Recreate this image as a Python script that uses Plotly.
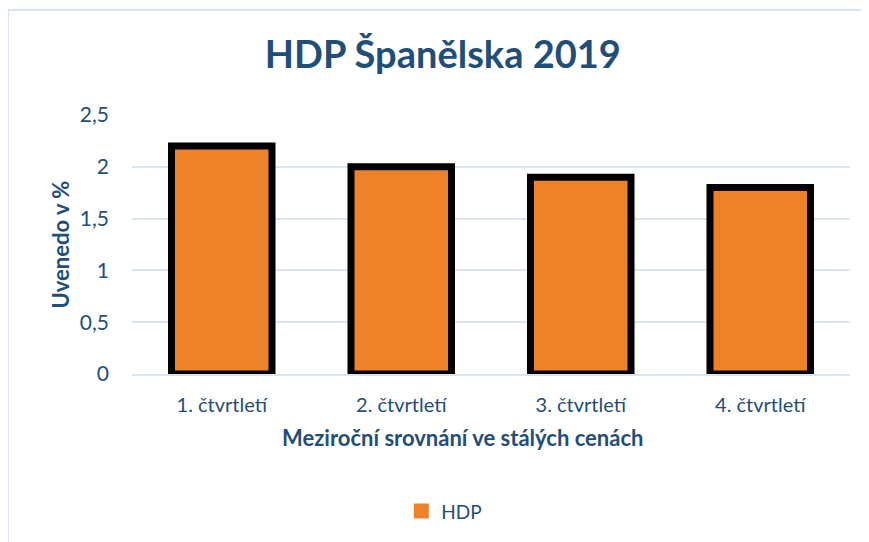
import plotly.graph_objects as go

categories = ["1. čtvrtletí", "2. čtvrtletí", "3. čtvrtletí", "4. čtvrtletí"]
hdp_values = [2.2, 2.0, 1.9, 1.8]
y_tick_vals = [0, 0.5, 1, 1.5, 2, 2.5]
y_tick_text = ["0", "0,5", "1", "1,5", "2", "2,5"]

TEXT = "#1F4E79"
FONT = "Lato"
ORANGE = "#EE8228"

fig = go.Figure()
fig.add_trace(go.Bar(
    x=categories, y=hdp_values, name="HDP",
    marker=dict(color=ORANGE, line=dict(color="black", width=7)),
    showlegend=False,
))
# legend entry (plain orange square, as in the reference)
fig.add_trace(go.Scatter(
    x=[None], y=[None], mode="markers", name="HDP",
    marker=dict(symbol="square", size=15, color=ORANGE),
    showlegend=True,
))

fig.update_layout(
    width=861, height=534,
    margin=dict(l=124, r=19, t=107, b=168),
    paper_bgcolor="white", plot_bgcolor="white",
    separators=", ",
    bargap=0.44,
    font=dict(family=FONT, color=TEXT),
    title=dict(text="<b>HDP Španělska 2019</b>", x=0.505, xref="container",
               y=0.912, yref="container", xanchor="center", yanchor="middle",
               font=dict(family=FONT, size=38, color=TEXT)),
    legend=dict(orientation="h", x=0.435, xanchor="center", y=-0.53, yanchor="middle",
                font=dict(family=FONT, size=19, color=TEXT), itemwidth=30),
    shapes=[dict(type="rect", xref="paper", yref="paper",
                 x0=-0.1727, x1=1.1, y0=-0.7, y1=1.405,
                 line=dict(color="#D9E3F1", width=2), layer="below")],
    annotations=[dict(text="<b>Meziroční srovnání ve stálých cenách</b>",
                      xref="paper", yref="paper", x=0.461, y=-0.247,
                      xanchor="center", yanchor="middle", showarrow=False,
                      font=dict(family=FONT, size=22, color=TEXT))],
)

fig.update_xaxes(
    showgrid=False, showline=True, linecolor="#D9E3F1", linewidth=2,
    ticks="", ticklabelstandoff=12,
    tickfont=dict(family=FONT, size=20, color=TEXT),
)
fig.update_yaxes(
    range=[0, 2.5], tickvals=y_tick_vals, ticktext=y_tick_text,
    showgrid=True, gridcolor="#D9E3F1", gridwidth=2, zeroline=False,
    ticks="", ticklabelstandoff=22,
    tickfont=dict(family=FONT, size=21, color=TEXT),
    title=dict(text="<b>Uvenedo v %</b>", standoff=4,
               font=dict(family=FONT, size=22, color=TEXT)),
)

fig.write_html("out.html")
